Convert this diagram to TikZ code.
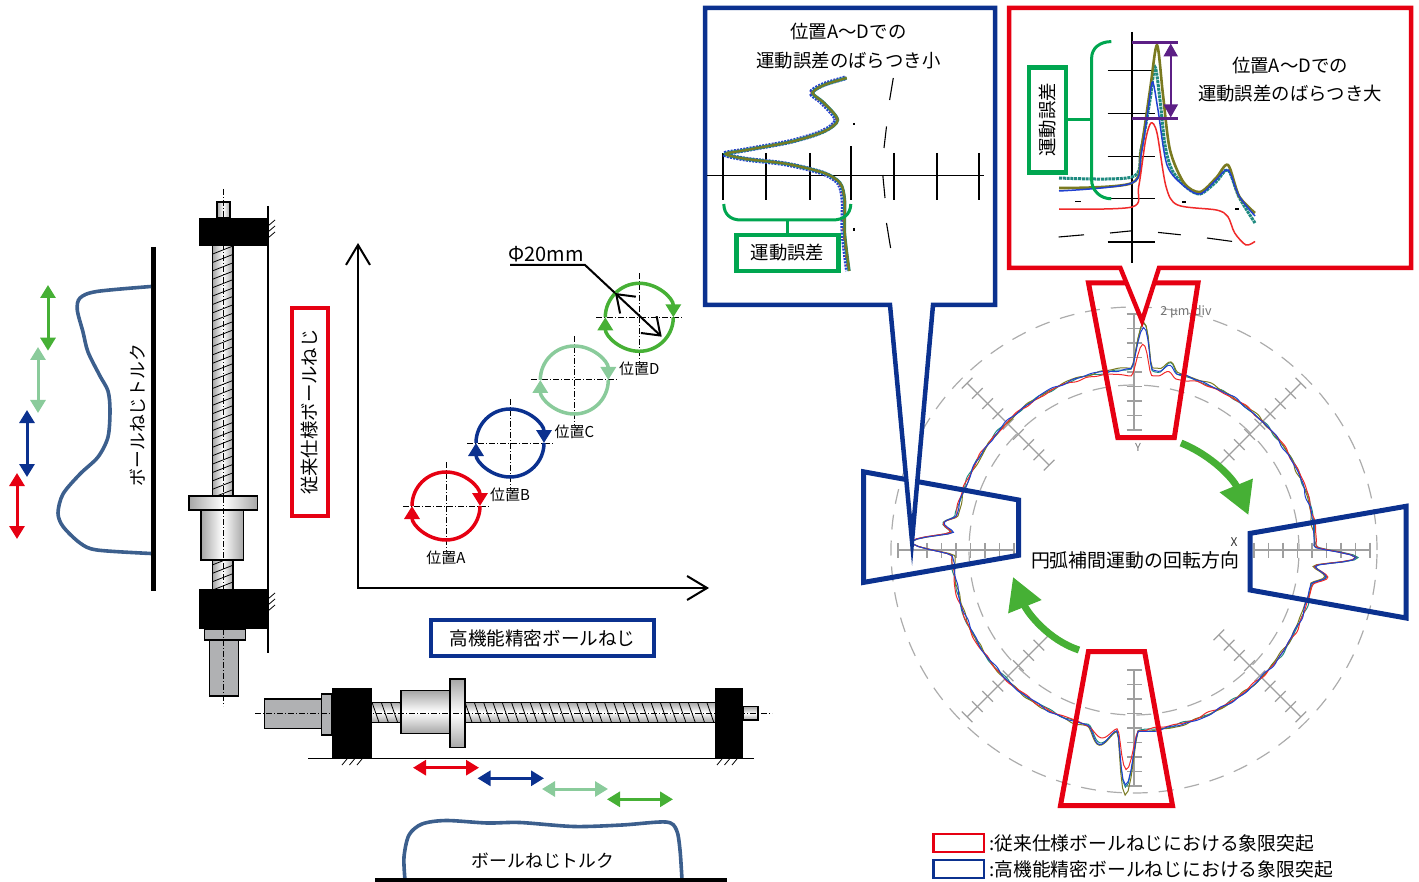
\documentclass[tikz,border=0pt]{standalone}
\usepackage{fontspec}
\setmainfont{Noto Sans CJK JP}
\usetikzlibrary{positioning,arrows.meta}
\definecolor{myred}{HTML}{E60012}
\definecolor{myblue}{HTML}{0B318F}
\definecolor{mygreen}{HTML}{46B035}
\definecolor{mylight}{HTML}{8ACB9B}
\definecolor{frameg}{HTML}{00A650}
\definecolor{mypurple}{HTML}{5C1F85}
\definecolor{torquec}{HTML}{3C5F8D}
\definecolor{steel}{HTML}{B0B1B3}
\definecolor{trblue}{HTML}{2040D0}
\definecolor{trred}{HTML}{F02A2A}
\definecolor{trteal}{HTML}{1F8A80}
\definecolor{trolive}{HTML}{7A7A20}
\newcommand{\dialtrace}[7]{% colour, offset, phase, top, bottom, side, top sag
  \draw[#1, line width=1pt, shift={(1134,550)}] plot[domain=-135:225, samples=540]
    (\x:{181+#2*cos(2*\x+#3)+.7*sin(23*\x+#3)+.5*sin(41*\x+2*#3)+.35*sin(60*\x+3*#3)
      +#4*bp(\x+87.5,3.5)+.2*#4*bp(\x+79,3)
      +#5*bp(\x-92,3.5)+.27*#5*bp(\x-100,5)
      +#6*bp(\x-182,4)+.28*#6*bp(\x-188,3)
      +#6*bp(\x-2,3.2)+.32*#6*bp(\x-8,3)+#7*bp(\x+85,28)});
}
\newcommand{\errleft}{plot[smooth] coordinates {(846,78) (823.4,85) (812,93) (823.4,103) (837,120) (823.4,131.5) (791.4,141.5) (745.7,150) (725,154) (745.7,159) (786.8,164) (823.4,173) (839.4,183) (844,200) (844,233) (848.5,271)}}
\begin{document}
\begin{tikzpicture}[x=1pt, y=-1pt, line cap=butt,
  declare function={bp(\d,\w)=(1+cos(180*max(min(\d,\w),-\w)/\w))/2;},
  lab/.style={font=\fontsize{18.4}{22}\selectfont, inner sep=0pt, align=center},
  tiny/.style={font=\fontsize{15}{18}\selectfont, inner sep=0pt},
  block/.style={fill=black},
  grayp/.style={draw=black, line width=1.2pt, fill=steel},
  metalv/.style={draw=black, line width=1.2pt, left color=gray!70, right color=gray!70, middle color=white},
  metalh/.style={draw=black, line width=1.2pt, top color=gray!70, bottom color=gray!70, middle color=white},
  cline/.style={line width=.7pt, dash pattern=on 6pt off 2pt on 1pt off 2pt},
  dbl/.style={line width=3pt, {Triangle[length=13pt,width=15pt]}-{Triangle[length=13pt,width=15pt]}},
  torque/.style={torquec, line width=3.6pt},
  circ/.style={line width=3.5pt, -{Triangle[length=13pt,width=15pt]}},
  barb/.style={line width=2pt},
  frame/.style={draw, line width=4.5pt},
  callout/.style={line width=4.5pt, fill=white, miter limit=20},
  trap/.style={line width=5pt, miter limit=20},
  spoke/.style={gray!75, line width=1.2pt},
  dcirc/.style={gray!65, line width=1.2pt, dash pattern=on 15pt off 11pt},
  brace/.style={frameg, line width=3pt},
  curv/.style={mygreen, line width=7pt, -{Triangle[length=32pt,width=34pt]}}]
\useasboundingbox (0,0) rectangle (1419,882);

% vertical screw
\draw[line width=1.3pt] (268,206) -- (268,653);
\begin{scope}
\clip (212.7,246) rectangle (233,589);
\fill[left color=gray!70, right color=gray!70, middle color=white] (212.7,246) rectangle (233,589);
\foreach \ty in {250,258.4,...,590} \draw[line width=.8pt] (212.7,\ty+4) -- (233,\ty-4);
\end{scope}
\draw[line width=1.2pt] (212.7,246) -- (212.7,589) (233,246) -- (233,589);
\draw[metalv] (217,202) rectangle (230,218);
\draw[metalv] (201,510) rectangle (243.7,560);
\draw[metalv] (189,496) rectangle (257.7,510);
\fill[block] (199,218) rectangle (268,246);
\fill[block] (199,589) rectangle (268,629);
\draw[grayp] (204.7,629) rectangle (245.3,640);
\draw[grayp] (209.3,640) rectangle (238.7,696);
\draw[cline] (223.7,189) -- (223.7,706);
\foreach \ty in {226,232,238,599,605,611} \draw[line width=.8pt] (268,\ty) -- (275,\ty-6);

% torque, vertical
\draw[line width=5pt] (153,247) -- (153,590.7);
\draw[torque] plot[smooth] coordinates {(151,286.5) (96.7,291.5) (80,298) (77.3,310) (83,332) (88,352) (100,376) (108,391) (110,410) (108,437) (98,457) (80,474) (63,494) (58,513) (63,526.5) (80,543) (97,550) (151,553.5)};
\node[lab, rotate=90, font=\fontsize{17.8}{20}\selectfont] (torqueleft) at (138,415) {ボールねじトルク};
\draw[dbl, mygreen] (48,285) -- (48,350.7);
\draw[dbl, mylight] (38,347) -- (38,413);
\draw[dbl, myblue] (27,410) -- (27,477);
\draw[dbl, myred] (17,473) -- (17,539);
\node[lab, frame, myred, text=black, rotate=90, minimum width=208pt, minimum height=36pt] (conv) at (310,412) {従来仕様ボールねじ};

% axes and positions
\draw[barb, {Straight Barb[length=20pt,width=24pt]}-{Straight Barb[length=20pt,width=24pt]}] (358,243) -- (358,588) -- (709,588);
\foreach \cx/\cy/\col/\nm in {446/506/myred/A, 510/443/myblue/B, 574.3/380/mylight/C, 639.3/317.3/mygreen/D} {
  \draw[cline, line width=1pt] (\cx-43,\cy) -- (\cx+43,\cy) (\cx,\cy-44) -- (\cx,\cy+45);
  \draw[circ, \col] (\cx-34,\cy) arc[start angle=180, end angle=0, radius=34pt];
  \draw[circ, \col] (\cx+34,\cy) arc[start angle=0, end angle=-180, radius=34pt];
  \node[tiny] (pos\nm) at (\cx,\cy+51.5) {位置\nm};
}
\node[lab, font=\fontsize{20}{24}\selectfont] (phi) at (546,254.5) {Φ20mm};
\draw[barb] (510,265) -- (585,265) -- (615,293);
\draw[barb, {Straight Barb[length=16pt,width=23pt]}-{Straight Barb[length=16pt,width=23pt]}] (615,293) -- (661.7,336.7);
\node[lab, frame, myblue, text=black, font=\fontsize{18.6}{22}\selectfont, minimum width=223pt, minimum height=36pt] (prec) at (542.5,638) {高機能精密ボールねじ};

% horizontal screw
\begin{scope}
\clip (372,702.3) rectangle (715,722.3);
\fill[top color=gray!70, bottom color=gray!70, middle color=white] (372,702.3) rectangle (715,722.3);
\foreach \tx in {372,381.3,...,720} \draw[line width=.8pt] (\tx,702.3) -- (\tx+7,722.3);
\end{scope}
\draw[line width=1.2pt] (372,702.3) -- (715,702.3) (372,722.3) -- (715,722.3);
\draw[grayp] (264.5,699) rectangle (321.5,728.3);
\draw[grayp] (321.5,694) rectangle (332,735);
\draw[metalh] (401,690.7) rectangle (450,733.3);
\draw[metalh] (450,679) rectangle (465,747.7);
\draw[metalh] (743,706.7) rectangle (758,720);
\fill[block] (332,688.3) rectangle (372,758);
\fill[block] (714.5,688.3) rectangle (743,758);
\draw[cline] (255,713.3) -- (772,713.3);
\draw[line width=1.3pt] (308,758.5) -- (754,758.5);
\foreach \tx in {342,349.5,357,717,724.5,732} \draw[line width=.8pt] (\tx,765) -- (\tx+5,759);
\draw[dbl, myred] (413,767.7) -- (479,767.7);
\draw[dbl, myblue] (477.5,778.3) -- (544,778.3);
\draw[dbl, mylight] (542,789) -- (608,789);
\draw[dbl, mygreen] (607,799.3) -- (673,799.3);

% torque, horizontal
\draw[torque] plot[smooth] coordinates {(405,880) (404,857) (409,835) (422,824) (446,820.5) (487,823) (520,822.5) (574,826.5) (622,825) (666,822) (676.5,830) (680,850) (682,880)};
\draw[line width=4pt] (375,880) -- (727,880);
\node[lab, font=\fontsize{17.8}{20}\selectfont] (torquelow) at (543,860.5) {ボールねじトルク};

% dial
\draw[dcirc] (1134,550) circle[radius=243pt];
\draw[dcirc] (1134,550) circle[radius=165pt];
\foreach \ang in {0,45,...,315} {
  \begin{scope}[shift={(1134,550)}, rotate=\ang]
  \draw[spoke] (120,0) -- (236,0);
  \foreach \tk in {120,134.5,...,236} \draw[spoke] (\tk,-7.5) -- (\tk,7.5);
  \end{scope}
}
\dialtrace{trteal}{1}{40}{47}{58}{42}{0}
\dialtrace{trolive}{1.5}{130}{47}{62}{42}{0}
\dialtrace{trred}{-1.5}{220}{30}{40}{40}{-5}
\dialtrace{trblue}{-.8}{310}{42}{54}{42}{-1}
\node[gray!90!black, font=\fontsize{12.5}{14}\selectfont, inner sep=0pt] (unit) at (1186,312) {2 μm/div};
\node[gray!90!black, font=\fontsize{11}{13}\selectfont, inner sep=0pt] (yaxis) at (1138,447) {Y};
\node[black!80, font=\fontsize{12}{14}\selectfont, inner sep=0pt] (xaxis) at (1234,542) {X};
\node[lab, font=\fontsize{18.9}{22}\selectfont] (rotdir) at (1135,560) {円弧補間運動の回転方向};
\draw[curv] (1181,443) .. controls (1213,456) and (1234,480) .. (1248.4,515);
\draw[curv] (1079,650) .. controls (1048,640) and (1027,612) .. (1013,577);

% zones
\draw[trap, myblue] (863.6,471.8) -- (1018.6,500) -- (1018.6,555.3) -- (863.6,582.4) -- cycle;
\draw[trap, myblue] (1250,533.4) -- (1406,506.3) -- (1406,618) -- (1250,590) -- cycle;
\draw[trap, myred] (1088.5,283) -- (1198,283) -- (1174.3,437.7) -- (1117.8,437.7) -- cycle;
\draw[trap, myred] (1088.4,651.7) -- (1144.6,651.7) -- (1172.5,805.5) -- (1060.5,805.5) -- cycle;

% blue callout
\draw[callout, draw=myblue] (705,8) -- (995,8) -- (995,305) -- (933,305) -- (912,541) -- (890,305) -- (705,305) -- cycle;
\node[lab] (blueA) at (848.5,32) {位置A～Dでの};
\node[lab] (blueB) at (848.5,60.5) {運動誤差のばらつき小};
\draw[line width=1.4pt] (707,175.5) -- (984,175.5);
\foreach \tx in {723,766,810,851,894,937,979} \draw[line width=1.2pt] (\tx,153) -- (\tx,200);
\draw[line width=1.2pt] (851,146.5) -- (851,153);
\foreach \p/\q in {{(893.3,78)}/{(889.6,100)}, {(886.5,126.5)}/{(884,148)}, {(882.8,175)}/{(885,198)}, {(886.5,223)}/{(890.6,248)}, {(854,123)}/{(854,125.5)}, {(854,228)}/{(854,231)}} \draw[line width=1.1pt] \p -- \q;
\draw[trblue, line width=4.8pt, xshift=-1pt, dash pattern=on 2pt off 1.2pt] \errleft;
\draw[trred, line width=3pt, dash pattern=on 3pt off 6pt] \errleft;
\draw[trteal, line width=3.2pt, xshift=.6pt] \errleft;
\draw[trolive, line width=2pt, xshift=.8pt] \errleft;
\draw[brace] (723.8,204) .. controls (724,214) and (730,220) .. (741,220) -- (832.5,220) .. controls (844,220) and (850.5,214) .. (850.8,204);
\node[lab, frame, frameg, text=black, fill=white, minimum width=102pt, minimum height=36pt] (errblue) at (787.5,253) {運動誤差};
\draw[brace] (errblue.north) -- (787.5,220);

% red callout
\draw[callout, draw=myred] (1009,8) -- (1411,8) -- (1411,268) -- (1159,268) -- (1142,321) -- (1120.4,268) -- (1009,268) -- cycle;
\node[lab] (redA) at (1290,65.6) {位置A～Dでの};
\node[lab] (redB) at (1290,94) {運動誤差のばらつき大};
\draw[line width=1.2pt] (1132,32) -- (1132,263);
\foreach \ty in {70.6,113.9,156.8,198.8,242} \draw[line width=1.2pt] (1107.6,\ty) -- (1154.7,\ty);
\foreach \p/\q in {{(1075,201.5)}/{(1081,201.5)}, {(1182,202)}/{(1186,202)}, {(1058.7,237)}/{(1084,234.8)}, {(1110,233)}/{(1132,230.8)}, {(1158,232.4)}/{(1180.7,234.8)}, {(1207,238)}/{(1232,241.4)}, {(1235,209)}/{(1239,209)}} \draw[line width=1.1pt] \p -- \q;
\draw[trteal, line width=3pt, dash pattern=on 3pt off .8pt] plot[smooth] coordinates {(1059,178) (1132,177) (1141,150) (1150,100) (1155,67) (1160,100) (1165,145) (1172,170) (1186,187) (1200,194) (1216,182) (1228,170) (1239,197) (1255,223)};
\draw[trolive, line width=2.6pt] plot[smooth] coordinates {(1059,188) (1132,183) (1141,150) (1150,90) (1157,45) (1163,95) (1170,150) (1184,183) (1200,192) (1216,178) (1228,165) (1239,196) (1255,213)};
\draw[trblue, line width=1.5pt] plot[smooth] coordinates {(1059,191) (1132,183) (1141,155) (1148,110) (1152.5,82) (1158,110) (1167,165) (1184,186) (1200,194) (1216,180) (1228,170) (1239,196) (1255,216)};
\draw[trred, line width=1.5pt] plot[smooth] coordinates {(1059,209) (1132,207) (1138.7,186.5) (1145.6,140) (1151,123) (1157,133) (1166,186.5) (1177.6,205) (1216.4,210) (1227.8,216.5) (1234.7,233) (1246,245) (1255,241.4)};
\draw[mypurple, line width=3pt] (1132,42.3) -- (1177.6,42.3) (1132,118.9) -- (1177.6,118.9);
\draw[mypurple, line width=2.4pt, {Triangle[length=13pt,width=14pt]}-{Triangle[length=13pt,width=14pt]}] (1170.7,43.5) -- (1170.7,117.5);
\draw[brace] (1111.3,41.6) .. controls (1100,41.6) and (1091.6,48) .. (1091.6,58.3) -- (1091.6,180) .. controls (1091.6,190) and (1100,198.8) .. (1111.3,198.8);
\node[lab, frame, frameg, text=black, fill=white, rotate=90, minimum width=105pt, minimum height=37pt] (errred) at (1047.5,120) {運動誤差};
\draw[brace] (errred.south) -- (1091.6,120);

% legend
\draw[myred, line width=2.5pt] (933.5,834) rectangle (984,852);
\draw[myblue, line width=2.5pt] (933.5,860) rectangle (984,878);
\node[lab, anchor=west, font=\fontsize{18.8}{22}\selectfont] (legred) at (989,843) {:従来仕様ボールねじにおける象限突起};
\node[lab, anchor=west, font=\fontsize{18.8}{22}\selectfont] (legblue) at (989,869) {:高機能精密ボールねじにおける象限突起};
\end{tikzpicture}
\end{document}
